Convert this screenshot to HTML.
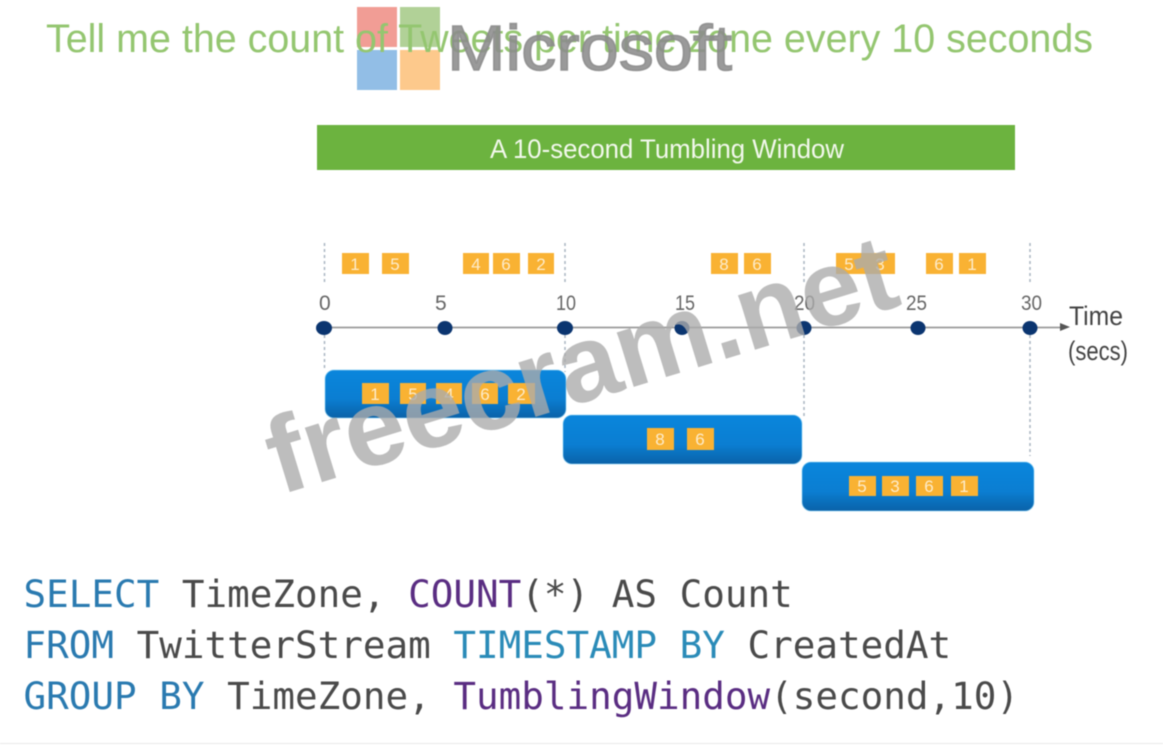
<!DOCTYPE html>
<html><head><meta charset="utf-8"><style>
html,body{margin:0;padding:0;background:#fff}
svg{display:block;filter:blur(.45px)}
</style></head><body>
<svg xmlns="http://www.w3.org/2000/svg" width="1163" height="745" viewBox="0 0 1163 745">
<defs>
<linearGradient id="b" x1="0" y1="0" x2="0" y2="1"><stop offset="0" stop-color="#0a86dc"/><stop offset=".6" stop-color="#0b7ed2"/><stop offset="1" stop-color="#0a62a8"/></linearGradient>
</defs>
<rect width="1163" height="745" fill="#fff"/>
<rect x="357" y="7" width="40" height="40" fill="#f0928a" fill-opacity=".9"/>
<rect x="400" y="7" width="40" height="40" fill="#a8cc8c" fill-opacity=".9"/>
<rect x="357" y="50" width="40" height="40" fill="#92bee6"/>
<rect x="400" y="50" width="40" height="40" fill="#fdc98c"/>
<text x="46" y="52" font-family="Liberation Sans, sans-serif" font-size="39.500" fill="#94c670" textLength="1047" lengthAdjust="spacingAndGlyphs">Tell me the count of Tweets per time zone every 10 seconds</text>
<text x="447" y="70" font-family="Liberation Sans, sans-serif" font-size="64" fill="#8c8c8c" fill-opacity=".88" stroke="#8c8c8c" stroke-opacity=".88" stroke-width="1.500" textLength="285" lengthAdjust="spacingAndGlyphs">Microsoft</text>
<rect x="317" y="125" width="698" height="45" fill="#6cb33f"/>
<text x="490" y="158" font-family="Liberation Sans, sans-serif" font-size="27" fill="#f2f8ec" textLength="354" lengthAdjust="spacingAndGlyphs">A 10-second Tumbling Window</text>
<g stroke="#a9b5c2" stroke-width="1.5" stroke-dasharray="3 3" fill="none">
<path d="M324.500 243V285M324.500 335V370"/><path d="M565 243V285M565 335V372"/><path d="M804 243V285M804 335V416"/><path d="M1030 243V285M1030 335V456"/>
</g>
<g fill="#f9b233">
<rect x="342" y="253" width="27" height="21"/><rect x="382" y="253" width="27" height="21"/>
<rect x="463" y="253" width="26" height="21"/><rect x="493" y="253" width="27" height="21"/><rect x="528" y="253" width="26" height="21"/>
<rect x="711" y="253" width="27" height="21"/><rect x="744" y="253" width="27" height="21"/>
<rect x="836" y="253" width="59" height="21"/>
<rect x="926" y="253" width="27" height="21"/><rect x="959" y="253" width="27" height="21"/>
</g>
<g font-family="Liberation Sans, sans-serif" font-size="17" fill="#fdeccb" text-anchor="middle">
<text x="355" y="270">1</text><text x="395" y="270">5</text><text x="476" y="270">4</text><text x="506" y="270">6</text><text x="541" y="270">2</text>
<text x="724" y="270">8</text><text x="757" y="270">6</text><text x="849" y="270">5</text><text x="880" y="270">3</text><text x="939" y="270">6</text><text x="972" y="270">1</text>
</g>
<g font-family="Liberation Sans, sans-serif" font-size="21" fill="#666">
<text x="319" y="310">0</text><text x="435" y="310">5</text><text x="556" y="310" textLength="20" lengthAdjust="spacingAndGlyphs">10</text><text x="675" y="310" textLength="20" lengthAdjust="spacingAndGlyphs">15</text><text x="794" y="310" textLength="21" lengthAdjust="spacingAndGlyphs">20</text><text x="906" y="310" textLength="21" lengthAdjust="spacingAndGlyphs">25</text><text x="1021" y="310" textLength="21" lengthAdjust="spacingAndGlyphs">30</text>
</g>
<path d="M324 327.500H1060" stroke="#9a9a9a" stroke-width="1.800"/>
<path d="M1060 323L1070 327L1060 331Z" fill="#555"/>
<g fill="#0b3570">
<ellipse cx="324" cy="328" rx="8" ry="7"/><ellipse cx="445" cy="328" rx="7.500" ry="7"/><ellipse cx="565" cy="328" rx="8" ry="7"/><ellipse cx="682" cy="328" rx="7.500" ry="7"/><ellipse cx="804" cy="328" rx="7.500" ry="7"/><ellipse cx="918" cy="328" rx="7.500" ry="7"/><ellipse cx="1030" cy="328" rx="7.500" ry="7"/>
</g>
<g font-family="Liberation Sans, sans-serif" font-size="27" fill="#444">
<text x="1069" y="325" textLength="54" lengthAdjust="spacingAndGlyphs">Time</text><text x="1068" y="360" textLength="60" lengthAdjust="spacingAndGlyphs">(secs)</text>
</g>
<g stroke="#8fd4f5" stroke-opacity=".6" stroke-width="1">
<rect x="325" y="370" width="241" height="48" rx="9" fill="url(#b)"/>
<rect x="563" y="415" width="239" height="49" rx="9" fill="url(#b)"/>
<rect x="802" y="462" width="232" height="49" rx="9" fill="url(#b)"/>
</g>
<g fill="#f9b233">
<rect x="362" y="383" width="27" height="21"/><rect x="400" y="383" width="26" height="21"/><rect x="436" y="383" width="26" height="21"/><rect x="472" y="383" width="26" height="21"/><rect x="508" y="383" width="27" height="21"/>
<rect x="647" y="428" width="27" height="22"/><rect x="687" y="428" width="27" height="22"/>
<rect x="849" y="476" width="27" height="20"/><rect x="882" y="476" width="27" height="20"/><rect x="916" y="476" width="27" height="20"/><rect x="951" y="476" width="27" height="20"/>
</g>
<g font-family="Liberation Sans, sans-serif" font-size="17" fill="#fdeccb" text-anchor="middle">
<text x="375" y="400">1</text><text x="413" y="400">5</text><text x="449" y="400">4</text><text x="485" y="400">6</text><text x="521" y="400">2</text>
<text x="660" y="445">8</text><text x="700" y="445">6</text>
<text x="862" y="492">5</text><text x="895" y="492">3</text><text x="929" y="492">6</text><text x="964" y="492">1</text>
</g>
<text transform="translate(280 495) rotate(-17)" font-family="Liberation Sans, sans-serif" font-size="108" font-weight="bold" fill="#ababab" fill-opacity=".79" textLength="652" lengthAdjust="spacingAndGlyphs">freecram.net</text>
<g font-family="DejaVu Sans Mono, monospace" font-size="37.600" xml:space="preserve">
<text x="23.500" y="607"><tspan fill="#2a7ab0">SELECT</tspan><tspan fill="#4a4a4a"> TimeZone, </tspan><tspan fill="#5a2d82">COUNT</tspan><tspan fill="#4a4a4a">(*) AS Count</tspan></text>
<text x="23.500" y="658"><tspan fill="#2a7ab0">FROM</tspan><tspan fill="#4a4a4a"> TwitterStream </tspan><tspan fill="#2a8bb8">TIMESTAMP BY</tspan><tspan fill="#4a4a4a"> CreatedAt</tspan></text>
<text x="23.500" y="709"><tspan fill="#2a7ab0">GROUP BY</tspan><tspan fill="#4a4a4a"> TimeZone, </tspan><tspan fill="#5a2d82">TumblingWindow</tspan><tspan fill="#4a4a4a">(second,10)</tspan></text>
</g>
<path d="M0 743.500H1163" stroke="#e8e8e8" stroke-width="1"/>
</svg>
</body></html>
